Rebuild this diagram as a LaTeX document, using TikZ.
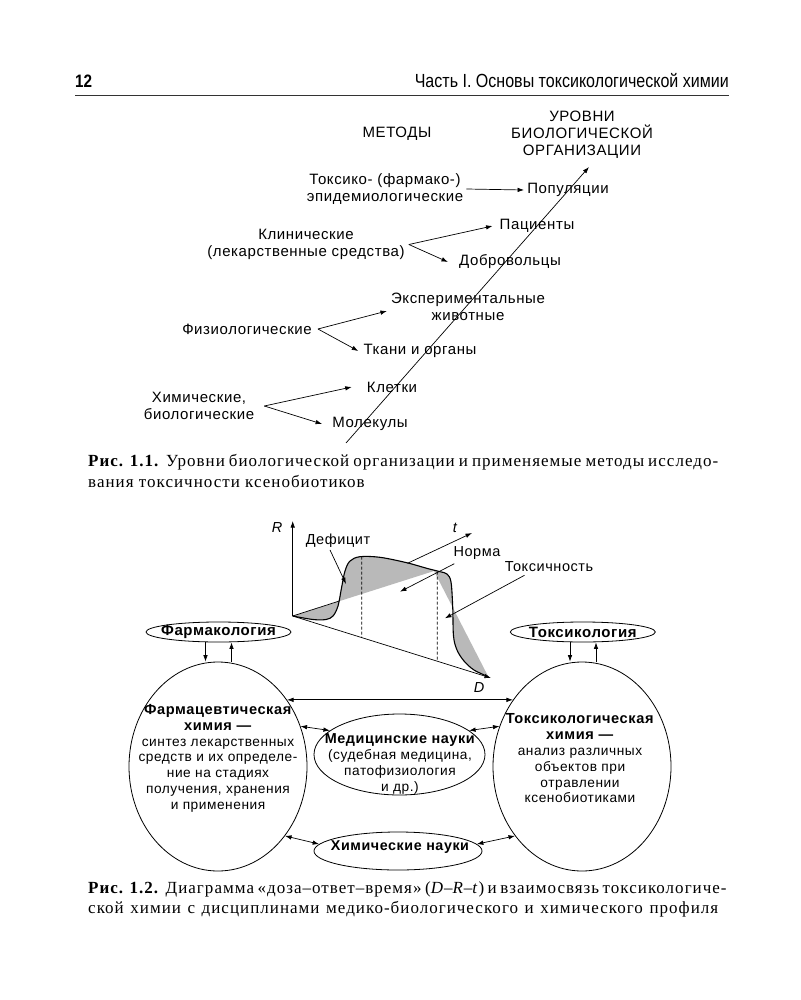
\documentclass[tikz,border=0pt]{standalone}
\usepackage{fontspec}
\usepackage{graphicx}
\setmainfont{Liberation Serif}
\newfontfamily\lab[LetterSpace=4]{Liberation Sans}
\newfontfamily\hdr{Liberation Sans}
\newfontfamily\capf[LetterSpace=6]{Liberation Serif}
\usetikzlibrary{arrows.meta,shapes.geometric,calc}
\tikzset{
  lbl/.style={font=\lab\fontsize{15}{17}\selectfont, inner sep=3pt, align=center},
  glbl/.style={font=\lab\fontsize{14.5}{17}\selectfont, inner sep=2pt},
  arr/.style={-{Latex[length=6.5pt,width=4.5pt]}, line width=0.7pt},
  darr/.style={{Latex[length=6.5pt,width=4.5pt]}-{Latex[length=6.5pt,width=4.5pt]}, line width=0.7pt},
  ell/.style={draw, ellipse, line width=0.8pt, inner sep=0pt},
  etext/.style={font=\lab\fontsize{13.7}{15.8}\selectfont, align=center, inner sep=0pt},
  btext/.style={font=\lab\bfseries\fontsize{15}{17}\selectfont, inner sep=0pt},
  capline/.style={anchor=west, inner sep=0pt, font=\capf\fontsize{17}{20}\selectfont},
  dsh/.style={dash pattern=on 3pt off 2pt, line width=0.7pt}
}
\begin{document}
\begin{tikzpicture}[x=1pt,y=-1pt]
\useasboundingbox[fill=white] (0,0) rectangle (800,1000);

% ---------- header ----------
\node[anchor=west, inner sep=0pt] (pg) at (75,81) {\resizebox{17pt}{\height}{\hdr\bfseries\fontsize{18}{20}\selectfont 12}};
\node[anchor=east, inner sep=0pt] (hd) at (729,81) {\resizebox{314pt}{\height}{\hdr\fontsize{19}{22}\selectfont Часть I. Основы токсикологической химии}};
\coordinate (r1) at (75,96);
\coordinate (r2) at (729,96);
\draw[line width=1pt, black!80] (r1) -- (r2);

% ---------- figure 1.1 ----------
\node[lbl] (met) at (397,134) {МЕТОДЫ};
\node[lbl] (lev) at (582,134.5) {УРОВНИ\\БИОЛОГИЧЕСКОЙ\\ОРГАНИЗАЦИИ};

\node[lbl] (tox) at (385,189) {Токсико- (фармако-)\\эпидемиологические};
\node[lbl] (pop) at (568,190) {Популяции};
\node[lbl] (pac) at (537,226) {Пациенты};
\node[lbl] (klin) at (306,244.5) {Клинические\\(лекарственные средства)};
\node[lbl] (dob) at (510,262) {Добровольцы};
\node[lbl] (exp) at (468,306.5) {Экспериментальные\\животные};
\node[lbl] (fiz) at (247,329) {Физиологические};
\node[lbl] (tka) at (420,351) {Ткани и органы};
\node[lbl] (kle) at (392,387) {Клетки};
\node[lbl] (him) at (199,406) {Химические,\\биологические};
\node[lbl] (mol) at (370,424) {Молекулы};

\coordinate (dstart) at (346,443);
\coordinate (dend) at (589,167);
\draw[arr] (dstart) -- (dend);

\draw[arr] (tox.east) -- (pop.west);
\draw[arr] ([xshift=1pt]klin.east) -- ([xshift=-4pt]pac.west);
\draw[arr] ([xshift=1pt]klin.east) -- ([xshift=-8pt]dob.west);
\draw[arr] ([xshift=3pt]fiz.east) -- ([xshift=-1pt,yshift=-4.5pt]exp.west);
\draw[arr] ([xshift=3pt]fiz.east) -- ([xshift=-2pt]tka.west);
\draw[arr] ([xshift=7pt]him.east) -- ([xshift=-12pt]kle.west);
\draw[arr] ([xshift=7pt]him.east) -- ([xshift=-7pt]mol.west);

\node[capline] (c1a) at (88,462) {\makebox[630pt][s]{\textbf{Рис. 1.1.} Уровни биологической организации и применяемые методы исследо-}};
\node[capline] (c1b) at (88,481) {вания токсичности ксенобиотиков};

% ---------- figure 1.2: D-R-t graph ----------
\coordinate (O) at (292.7,616);
\coordinate (Rt) at (292.7,521);
\coordinate (Dt) at (491,678);
\coordinate (Tt) at (472,533);
\coordinate (V) at (434,571);
\coordinate (Tb) at (407.5,563.3);
\coordinate (Xn) at (339.3,601);

\fill[gray!55] plot[smooth,tension=0.55] coordinates {(292.7,616) (313,619.5) (326,619.5) (333,616) (338,606) (341.5,588) (345,571) (350,561) (360,556.7) (380,557.3) (406.7,562.7) (426.7,568.3) (440,571.7) (447,574) (451,582) (452.7,606.7) (453.5,636) (457,650) (464,661) (474,670) (488.3,676.7)} -- (V) -- cycle;

\coordinate (c1t) at (361.7,556.7);
\coordinate (c2t) at (437.3,571.5);
\draw[dsh] (c1t) -- ($(O)!0.348!(Dt)$);
\draw[dsh] (c2t) -- ($(O)!0.729!(Dt)$);

\draw[arr] (O) -- (Rt);
\draw[arr] (O) -- (Dt);
\draw[line width=0.7pt] (O) -- (Xn);
\draw[line width=1.1pt] plot[smooth,tension=0.55] coordinates {(292.7,616) (313,619.5) (326,619.5) (333,616) (338,606) (341.5,588) (345,571) (350,561) (360,556.7) (380,557.3) (406.7,562.7) (426.7,568.3) (440,571.7) (447,574) (451,582) (452.7,606.7) (453.5,636) (457,650) (464,661) (474,670) (488.3,676.7)};
\draw[arr] (Tb) -- (Tt);

\node[glbl, font=\lab\itshape\fontsize{14.5}{17}\selectfont] (Rl) at (277,528) {R};
\node[glbl, font=\lab\itshape\fontsize{14.5}{17}\selectfont] (tl) at (455,528) {t};
\node[glbl, font=\lab\itshape\fontsize{14.5}{17}\selectfont] (Dl) at (479,688) {D};

\node[glbl] (def) at (338,541) {Дефицит};
\node[glbl] (norm) at (477,553) {Норма};
\node[glbl] (txl) at (549,567) {Токсичность};
\coordinate (deft) at (346,584);
\coordinate (normt) at (400,591.7);
\coordinate (toxt) at (445,618.3);
\draw[arr] ([xshift=-8pt]def.south) -- (deft);
\draw[arr] ([xshift=3pt,yshift=-2pt]norm.south west) -- (normt);
\draw[arr] ([xshift=22pt,yshift=-1pt]txl.south west) -- (toxt);

% ---------- figure 1.2: disciplines ----------
\node[ell, minimum width=145pt, minimum height=20pt] (farm) at (218.5,632) {};
\node[btext] (farmt) at (218.5,632) {Фармакология};
\node[ell, minimum width=145pt, minimum height=20pt] (toksl) at (582.8,632) {};
\node[btext] (tokslt) at (582.8,632) {Токсикология};

\node[ell, minimum width=178pt, minimum height=209pt] (pharm) at (218,766.5) {};
\node[ell, minimum width=178pt, minimum height=209pt] (toxc) at (582,766.5) {};
\node[ell, minimum width=171pt, minimum height=81pt] (med) at (399.5,754.5) {};
\node[ell, minimum width=168pt, minimum height=38pt] (chem) at (398,851) {};

\node[etext] (pharmt) at (218,758.3) {\textbf{\fontsize{14.6}{15.8}\selectfont Фармацевтическая}\\\textbf{\fontsize{14.6}{15.8}\selectfont химия —}\\синтез лекарственных\\средств и их определе-\\ние на стадиях\\получения, хранения\\и применения};
\node[etext] (toxct) at (580,758.5) {\textbf{\fontsize{14.6}{15.8}\selectfont Токсикологическая}\\\textbf{\fontsize{14.6}{15.8}\selectfont химия —}\\анализ различных\\объектов при\\отравлении\\ксенобиотиками};
\node[etext, font=\lab\fontsize{13.7}{16}\selectfont] (medt) at (400,764) {\textbf{\fontsize{14.4}{16}\selectfont Медицинские науки}\\(судебная медицина,\\патофизиология\\и др.)};
\node[btext, font=\lab\bfseries\fontsize{14.3}{17}\selectfont] (chemt) at (400,847) {Химические науки};

\draw[arr] ([xshift=-13pt]farm.south) -- ([xshift=-12.5pt]pharm.north);
\draw[arr] ([xshift=13.5pt]pharm.north) -- ([xshift=13pt]farm.south);
\draw[arr] ([xshift=-12.8pt]toksl.south) -- ([xshift=-12pt]toxc.north);
\draw[arr] ([xshift=14pt]toxc.north) -- ([xshift=13.2pt]toksl.south);

\draw[darr] (pharm.44) -- (toxc.136);
\draw[darr] (pharm.26) -- (med.161);
\draw[darr] (med.19) -- (toxc.154);
\draw[darr] (pharm.-46) -- (chem.175);
\draw[darr] (chem.5) -- (toxc.226);

\node[capline] (c2a) at (88,889) {\makebox[630pt][s]{\textbf{Рис. 1.2.} Диаграмма «доза–ответ–время» (\textit{D}–\textit{R}–\textit{t}) и взаимосвязь токсикологиче-}};
\node[capline] (c2b) at (88,909) {\makebox[630pt][s]{ской химии с дисциплинами медико-биологического и химического профиля}};
\end{tikzpicture}
\end{document}
